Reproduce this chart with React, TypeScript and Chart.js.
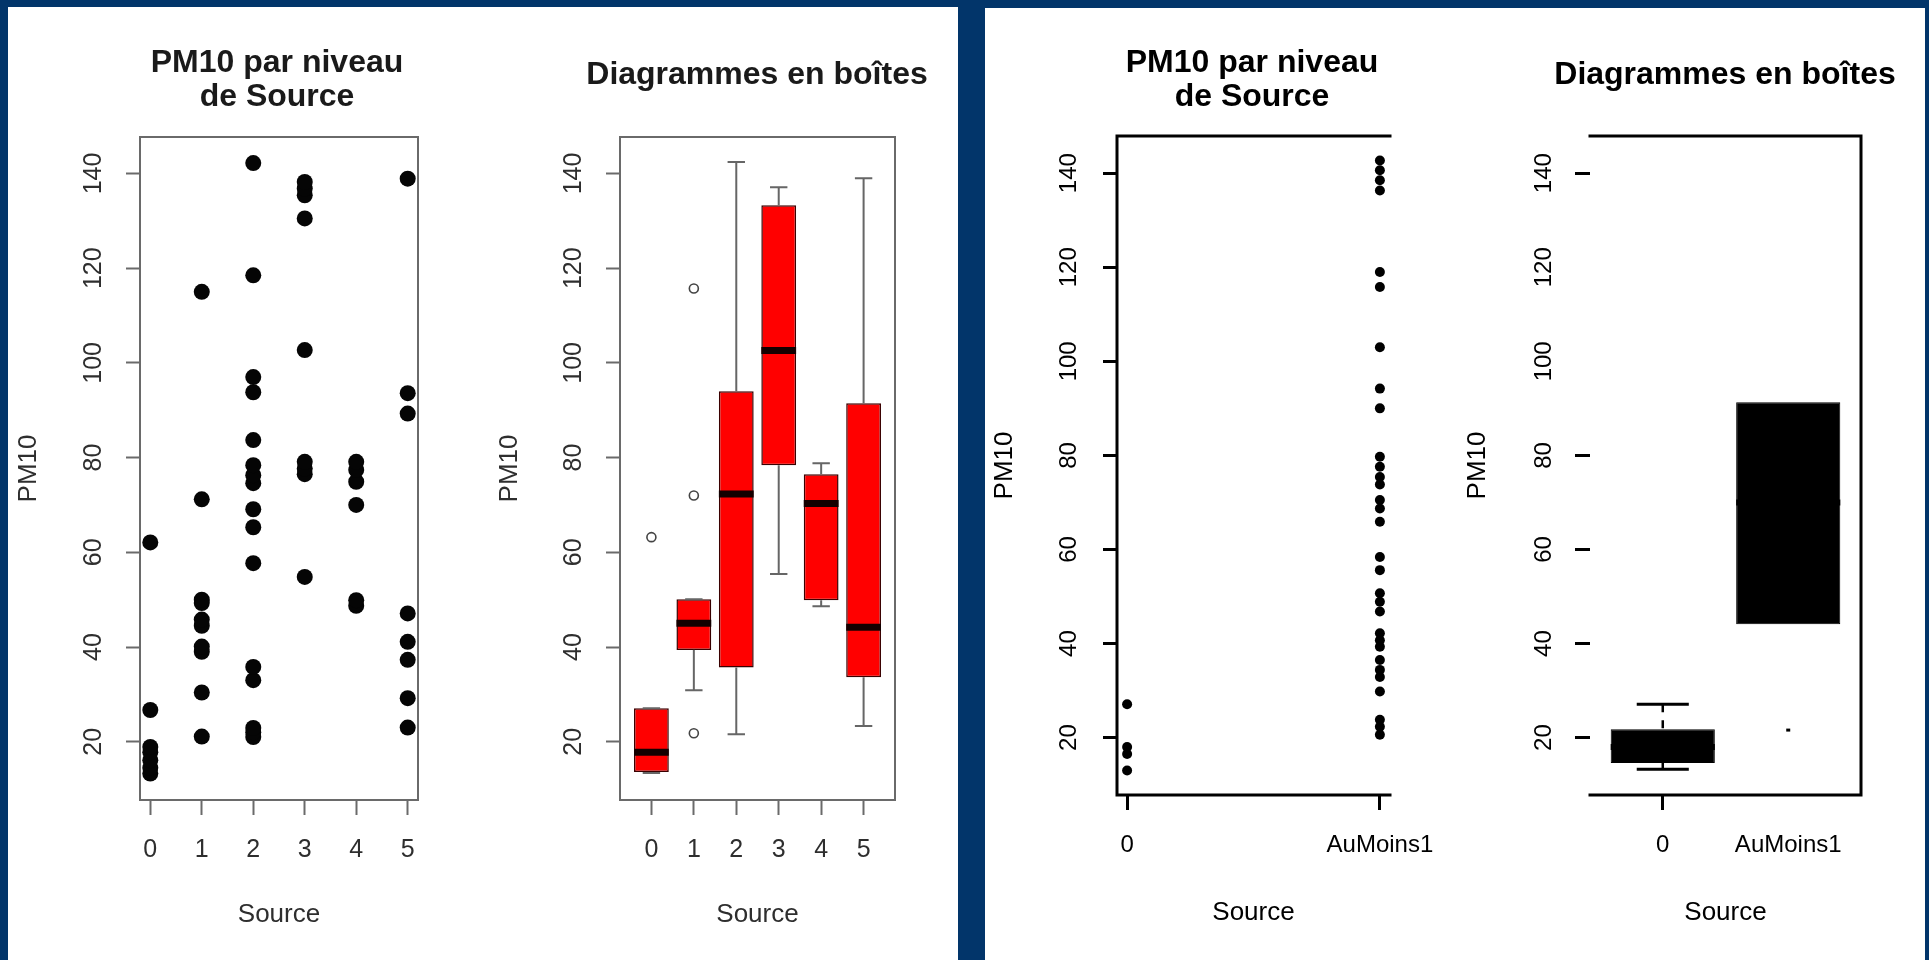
import React, { useEffect, useRef } from "react";
import { Chart, registerables } from "chart.js";

Chart.register(...registerables);

// ---------------- data ----------------
const sourceLevels = [0, 1, 2, 3, 4, 5];
const sourceLabels = ["0", "1", "2", "3", "4", "5"];
const pmTicks = [20, 40, 60, 80, 100, 120, 140];

// scatter "PM10 par niveau de Source" (left panel)
const pm10Source0 = [13.3, 14.5, 16.1, 17.8, 18.9, 26.7, 62.1];
const pm10Source1 = [21.1, 30.4, 39.0, 40.1, 44.5, 45.8, 49.3, 50.0, 71.2, 115.0];
const pm10Source2 = [21.0, 22.0, 22.9, 33.0, 35.8, 57.7, 65.3, 69.1, 74.6, 76.3, 78.4, 83.7, 93.8, 97.0, 118.5, 142.2];
const pm10Source3 = [54.8, 76.5, 77.7, 79.1, 102.7, 130.5, 135.4, 136.8, 138.2];
const pm10Source4 = [48.7, 49.9, 70.0, 74.9, 77.4, 79.1];
const pm10Source5 = [23.0, 29.2, 37.3, 41.1, 47.1, 89.3, 93.6, 138.9];

// box plot statistics (left panel)
const boxLow = [13.4, 30.9, 21.6, 55.4, 48.6, 23.3];
const boxQ1 = [13.6, 39.4, 35.7, 78.4, 49.9, 33.6];
const boxMedian = [17.8, 45.0, 72.3, 102.6, 70.3, 44.2];
const boxQ3 = [27.1, 50.1, 94.0, 133.3, 76.5, 91.5];
const boxHigh = [27.1, 50.1, 142.4, 137.1, 78.8, 139.0];
const outlierSource = [0, 1, 1, 1];
const outlierPM10 = [63.2, 115.7, 72.0, 21.8];

// right panel: two groups
const groupLevels = [0, 1];
const groupLabels = ["0", "AuMoins1"];
const pm10Group0 = [13.0, 16.5, 18.0, 27.1];
const pm10Group1 = [
  20.6, 22.3, 23.8, 29.8, 32.9, 34.4, 36.5, 39.3, 40.7, 42.2, 46.8, 48.9, 50.7, 55.6, 58.4,
  65.9, 68.7, 70.5, 73.8, 75.4, 77.6, 79.7, 90.0, 94.2, 103.0, 115.8, 119.0, 136.3, 138.5,
  140.6, 142.7,
];
const box2Low = [13.3, 21.6];
const box2Q1 = [14.6, 44.1];
const box2Median = [18.0, 70.0];
const box2Q3 = [21.8, 91.3];
const box2High = [27.1, 142.7];

// ---------------- styles / geometry ----------------
const FONT = "'Liberation Sans', Arial, Helvetica, sans-serif";
const BLUE = "#02356a";
const AXIS_TITLE_SIZE = 26;

type Geo = {
  left: number;
  width: number;
  yAxisWidth: number;
  rightWidth: number;
  yTitlePad: number;
};

// page coordinates -> canvas layout numbers (title centred on the canvas)
function geometry(
  canvasLeft: number,
  areaLeft: number,
  areaRight: number,
  titleCenter: number,
  yTitleX: number
): Geo {
  const width = 2 * (titleCenter - canvasLeft);
  const yAxisWidth = areaLeft - canvasLeft;
  const rightWidth = width - (areaRight - canvasLeft);
  const yTitlePad = yTitleX - canvasLeft - (AXIS_TITLE_SIZE * 1.2) / 2;
  return { left: canvasLeft, width, yAxisWidth, rightWidth, yTitlePad };
}

const geoC1 = geometry(10, 140, 418, 277, 28.5);
const geoC2 = geometry(480, 620, 895, 757, 510);
const geoC3 = geometry(988, 1117, 1390, 1252, 1005);
const geoC4 = geometry(1440, 1590, 1861, 1725, 1478);

type AxisCfg = {
  xMin: number;
  xMax: number;
  xLevels: number[];
  xLabels: string[];
  xAxisHeight: number;
  yMin: number;
  yMax: number;
  geo: Geo;
  tickSize: number;
  textColor: string;
  lineColor: string;
  lineWidth: number;
  yTickLen: number;
  yLabelPad: number;
  xLabelPad: number;
  xTitlePad: number;
  hiddenY?: number[];
  hiddenX?: number[];
};

function makeScales(o: AxisCfg) {
  const hy = o.hiddenY || [];
  const hx = o.hiddenX || [];
  return {
    x: {
      type: "linear",
      min: o.xMin,
      max: o.xMax,
      offset: false,
      afterBuildTicks: (axis: any) => {
        axis.ticks = o.xLevels.map((v) => ({ value: v }));
      },
      afterFit: (axis: any) => {
        axis.height = o.xAxisHeight;
      },
      ticks: {
        autoSkip: false,
        minRotation: 0,
        maxRotation: 0,
        padding: o.xLabelPad,
        color: o.textColor,
        font: { family: FONT, size: o.tickSize },
        callback: (_v: any, i: number) => o.xLabels[i],
      },
      grid: {
        display: true,
        offset: false,
        drawOnChartArea: false,
        drawTicks: true,
        tickLength: 15,
        tickWidth: o.lineWidth,
        tickColor: (ctx: any) =>
          ctx.tick && hx.includes(ctx.tick.value) ? "rgba(0,0,0,0)" : o.lineColor,
      },
      border: { display: false },
      title: {
        display: true,
        text: "Source",
        color: o.textColor,
        font: { family: FONT, size: AXIS_TITLE_SIZE },
        padding: { top: 0, bottom: o.xTitlePad },
      },
    },
    y: {
      type: "linear",
      position: "left",
      min: o.yMin,
      max: o.yMax,
      afterBuildTicks: (axis: any) => {
        axis.ticks = pmTicks.map((v) => ({ value: v }));
      },
      afterFit: (axis: any) => {
        axis.width = o.geo.yAxisWidth;
      },
      ticks: {
        minRotation: 90,
        maxRotation: 90,
        crossAlign: "center",
        padding: o.yLabelPad,
        color: o.textColor,
        font: { family: FONT, size: o.tickSize },
        callback: (v: any) => String(v),
      },
      grid: {
        display: true,
        drawOnChartArea: false,
        drawTicks: true,
        tickLength: o.yTickLen,
        tickWidth: o.lineWidth,
        tickColor: (ctx: any) =>
          ctx.tick && hy.includes(ctx.tick.value) ? "rgba(0,0,0,0)" : o.lineColor,
      },
      border: { display: false },
      title: {
        display: true,
        text: "PM10",
        color: o.textColor,
        font: { family: FONT, size: AXIS_TITLE_SIZE },
        padding: { top: o.geo.yTitlePad, bottom: 0 },
      },
    },
    // empty right-hand margin axis (keeps the title box as wide as the canvas)
    yMargin: {
      type: "linear",
      position: "right",
      display: true,
      min: 0,
      max: 1,
      ticks: { display: false },
      grid: { display: false, drawTicks: false },
      border: { display: false },
      afterFit: (axis: any) => {
        axis.width = o.geo.rightWidth;
      },
    },
  };
}

function makeTitle(text: string | string[], padTop: number, padBottom: number, color: string) {
  return {
    display: true,
    text,
    fullSize: true,
    color,
    font: { family: FONT, size: 32, weight: "bold", lineHeight: "34px" },
    padding: { top: padTop, bottom: padBottom },
  };
}

function baseOptions(scales: any, title: any) {
  return {
    responsive: false,
    animation: false,
    devicePixelRatio: 1,
    events: [],
    layout: { padding: 0 },
    plugins: {
      legend: { display: false },
      tooltip: { enabled: false },
      title,
    },
    scales,
  };
}

function framePlugin(
  sides: { top: boolean; right: boolean; bottom: boolean; left: boolean },
  color: string,
  width: number
) {
  return {
    id: "frame",
    afterDraw(chart: any) {
      const { ctx, chartArea: a } = chart;
      ctx.save();
      ctx.strokeStyle = color;
      ctx.lineWidth = width;
      ctx.lineCap = "square";
      ctx.beginPath();
      if (sides.top) {
        ctx.moveTo(a.left, a.top);
        ctx.lineTo(a.right, a.top);
      }
      if (sides.right) {
        ctx.moveTo(a.right, a.top);
        ctx.lineTo(a.right, a.bottom);
      }
      if (sides.bottom) {
        ctx.moveTo(a.left, a.bottom);
        ctx.lineTo(a.right, a.bottom);
      }
      if (sides.left) {
        ctx.moveTo(a.left, a.top);
        ctx.lineTo(a.left, a.bottom);
      }
      ctx.stroke();
      ctx.restore();
    },
  };
}

type BoxCfg = {
  low: number[];
  q1: number[];
  median: number[];
  q3: number[];
  high: number[];
  mode: string[]; // 'full' | 'lowMark'
  whiskerColor: string;
  whiskerWidth: number;
  dash: number[];
  capColor: string;
  capWidth: number;
  medianColor: string;
  medianWidth: number;
};

function boxPlugin(c: BoxCfg) {
  return {
    id: "boxDecor",
    afterDatasetsDraw(chart: any) {
      const { ctx } = chart;
      const ys = chart.scales.y;
      const meta = chart.getDatasetMeta(0);
      ctx.save();
      meta.data.forEach((bar: any, i: number) => {
        const x = bar.x;
        const w = bar.width;
        const yLow = ys.getPixelForValue(c.low[i]);
        const yQ1 = ys.getPixelForValue(c.q1[i]);
        const yMed = ys.getPixelForValue(c.median[i]);
        const yQ3 = ys.getPixelForValue(c.q3[i]);
        const yHigh = ys.getPixelForValue(c.high[i]);
        const cw = (w * 0.5) / 2;
        ctx.lineCap = "butt";
        if (c.mode[i] === "full") {
          ctx.strokeStyle = c.whiskerColor;
          ctx.lineWidth = c.whiskerWidth;
          ctx.setLineDash(c.dash);
          ctx.beginPath();
          ctx.moveTo(x, yHigh);
          ctx.lineTo(x, yQ3);
          ctx.moveTo(x, yLow);
          ctx.lineTo(x, yQ1);
          ctx.stroke();
          ctx.setLineDash([]);
          ctx.strokeStyle = c.capColor;
          ctx.lineWidth = c.capWidth;
          ctx.beginPath();
          ctx.moveTo(x - cw, yHigh);
          ctx.lineTo(x + cw, yHigh);
          ctx.moveTo(x - cw, yLow);
          ctx.lineTo(x + cw, yLow);
          ctx.stroke();
        } else if (c.mode[i] === "lowMark") {
          ctx.strokeStyle = c.capColor;
          ctx.lineWidth = c.capWidth;
          ctx.beginPath();
          ctx.moveTo(x - 2, yLow);
          ctx.lineTo(x + 2, yLow);
          ctx.stroke();
        }
        ctx.strokeStyle = c.medianColor;
        ctx.lineWidth = c.medianWidth;
        ctx.beginPath();
        ctx.moveTo(x - w / 2, yMed);
        ctx.lineTo(x + w / 2, yMed);
        ctx.stroke();
      });
      ctx.restore();
    },
  };
}

// ---------------- chart builders ----------------
const LEFT_TEXT = "#2e2e2e";
const LEFT_LINE = "#6a6a6a";

function buildScatterLeft() {
  const groups = [pm10Source0, pm10Source1, pm10Source2, pm10Source3, pm10Source4, pm10Source5];
  const pts = groups.flatMap((arr, i) => arr.map((y) => ({ x: sourceLevels[i], y })));
  const scales = makeScales({
    xMin: -0.2,
    xMax: 5.2,
    xLevels: sourceLevels,
    xLabels: sourceLabels,
    xAxisHeight: 160,
    yMin: 7.7,
    yMax: 147.7,
    geo: geoC1,
    tickSize: 25,
    textColor: LEFT_TEXT,
    lineColor: LEFT_LINE,
    lineWidth: 2,
    yTickLen: 14,
    yLabelPad: 11,
    xLabelPad: 20,
    xTitlePad: 29.4,
  });
  return {
    type: "scatter",
    data: {
      datasets: [
        {
          data: pts,
          pointRadius: 8,
          pointBackgroundColor: "#050505",
          pointBorderWidth: 0,
        },
      ],
    },
    options: baseOptions(scales, makeTitle(["PM10 par niveau", "de Source"], 46, 23, "#1a1a1a")),
    plugins: [framePlugin({ top: true, right: true, bottom: true, left: true }, LEFT_LINE, 2)],
  };
}

function buildBoxLeft() {
  const scales = makeScales({
    xMin: -0.74,
    xMax: 5.74,
    xLevels: sourceLevels,
    xLabels: sourceLabels,
    xAxisHeight: 160,
    yMin: 7.7,
    yMax: 147.7,
    geo: geoC2,
    tickSize: 25,
    textColor: LEFT_TEXT,
    lineColor: LEFT_LINE,
    lineWidth: 2,
    yTickLen: 14,
    yLabelPad: 11,
    xLabelPad: 20,
    xTitlePad: 29.4,
  });
  return {
    type: "bar",
    data: {
      datasets: [
        {
          type: "bar",
          data: sourceLevels.map((x, i) => ({ x, y: [boxQ1[i], boxQ3[i]] })),
          backgroundColor: "#ff0000",
          borderColor: "#3a0000",
          borderWidth: 1.5,
          borderSkipped: false,
          categoryPercentage: 1,
          barPercentage: 0.82,
          order: 2,
        },
        {
          type: "scatter",
          data: outlierSource.map((x, i) => ({ x, y: outlierPM10[i] })),
          pointRadius: 4.5,
          pointBackgroundColor: "rgba(0,0,0,0)",
          pointBorderColor: "#444",
          pointBorderWidth: 1.6,
          order: 1,
        },
      ],
    },
    options: baseOptions(scales, makeTitle("Diagrammes en boîtes", 58, 45, "#1a1a1a")),
    plugins: [
      framePlugin({ top: true, right: true, bottom: true, left: true }, LEFT_LINE, 2),
      boxPlugin({
        low: boxLow,
        q1: boxQ1,
        median: boxMedian,
        q3: boxQ3,
        high: boxHigh,
        mode: sourceLevels.map(() => "full"),
        whiskerColor: "#666",
        whiskerWidth: 2,
        dash: [],
        capColor: "#666",
        capWidth: 2,
        medianColor: "#140000",
        medianWidth: 7,
      }),
    ],
  };
}

function buildScatterRight() {
  const pts = [
    ...pm10Group0.map((y) => ({ x: groupLevels[0], y })),
    ...pm10Group1.map((y) => ({ x: groupLevels[1], y })),
  ];
  const scales = makeScales({
    xMin: -0.04,
    xMax: 1.04,
    xLevels: groupLevels,
    xLabels: groupLabels,
    xAxisHeight: 165,
    yMin: 7.8,
    yMax: 147.9,
    geo: geoC3,
    tickSize: 24,
    textColor: "#000",
    lineColor: "#000",
    lineWidth: 3,
    yTickLen: 14,
    yLabelPad: 14,
    xLabelPad: 20.6,
    xTitlePad: 31.4,
  });
  return {
    type: "scatter",
    data: {
      datasets: [
        {
          data: pts,
          pointRadius: 5,
          pointBackgroundColor: "#000",
          pointBorderWidth: 0,
        },
      ],
    },
    options: baseOptions(scales, makeTitle(["PM10 par niveau", "de Source"], 46, 22, "#000")),
    plugins: [framePlugin({ top: true, right: false, bottom: true, left: true }, "#000", 3)],
  };
}

function buildBoxRight() {
  const scales = makeScales({
    xMin: -0.58,
    xMax: 1.58,
    xLevels: groupLevels,
    xLabels: groupLabels,
    xAxisHeight: 165,
    yMin: 7.8,
    yMax: 147.9,
    geo: geoC4,
    tickSize: 24,
    textColor: "#000",
    lineColor: "#000",
    lineWidth: 3,
    yTickLen: 15,
    yLabelPad: 11,
    xLabelPad: 20.6,
    xTitlePad: 31.4,
    hiddenY: [100, 120],
    hiddenX: [1],
  });
  return {
    type: "bar",
    data: {
      datasets: [
        {
          type: "bar",
          data: groupLevels.map((x, i) => ({ x, y: [box2Q1[i], box2Q3[i]] })),
          backgroundColor: "#000",
          borderColor: "#000",
          borderWidth: 1,
          borderSkipped: false,
          categoryPercentage: 1,
          barPercentage: 0.83,
        },
      ],
    },
    options: baseOptions(scales, makeTitle("Diagrammes en boîtes", 58, 44, "#000")),
    plugins: [
      framePlugin({ top: true, right: true, bottom: true, left: false }, "#000", 3),
      boxPlugin({
        low: box2Low,
        q1: box2Q1,
        median: box2Median,
        q3: box2Q3,
        high: box2High,
        mode: ["full", "lowMark"],
        whiskerColor: "#000",
        whiskerWidth: 2.5,
        dash: [8, 8],
        capColor: "#000",
        capWidth: 3,
        medianColor: "#000",
        medianWidth: 6,
      }),
    ],
  };
}

// ---------------- components ----------------
function ChartCanvas({ geo, build }: { geo: Geo; build: () => any }) {
  const ref = useRef<HTMLCanvasElement | null>(null);
  useEffect(() => {
    if (!ref.current) return;
    const chart = new Chart(ref.current, build());
    return () => chart.destroy();
  }, []);
  return (
    <canvas
      ref={ref}
      width={geo.width}
      height={960}
      style={{ position: "absolute", left: geo.left, top: 0, width: geo.width, height: 960 }}
    />
  );
}

export default function App() {
  return (
    <div
      style={{
        position: "fixed",
        left: 0,
        top: 0,
        width: 1929,
        height: 960,
        background: BLUE,
        overflow: "hidden",
      }}
    >
      <div style={{ position: "absolute", left: 8, top: 7, width: 950, height: 953, background: "#fff" }} />
      <div style={{ position: "absolute", left: 985, top: 8, width: 940, height: 952, background: "#fff" }} />
      <ChartCanvas geo={geoC1} build={buildScatterLeft} />
      <ChartCanvas geo={geoC2} build={buildBoxLeft} />
      <ChartCanvas geo={geoC3} build={buildScatterRight} />
      <ChartCanvas geo={geoC4} build={buildBoxRight} />
    </div>
  );
}
